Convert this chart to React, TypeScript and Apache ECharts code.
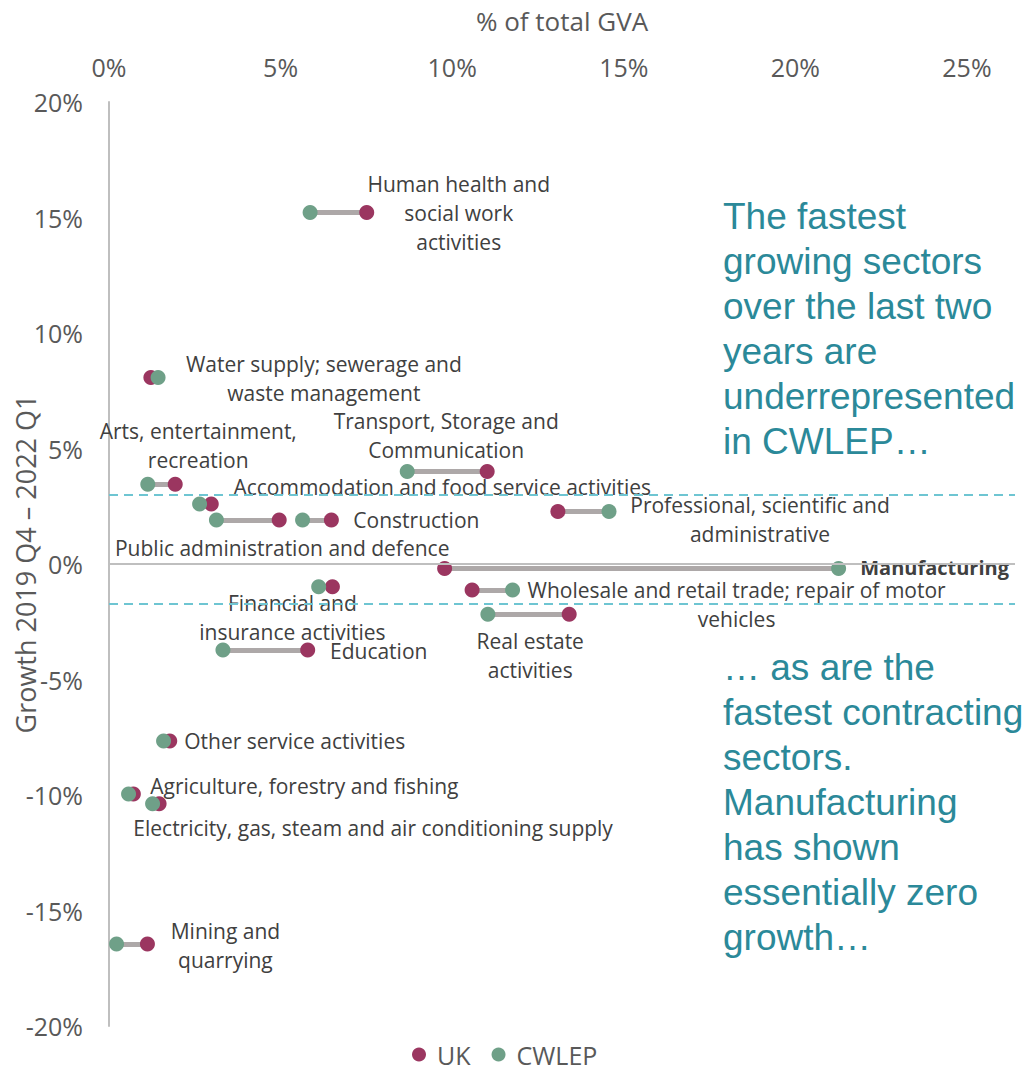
import React, { useEffect, useRef } from "react";
import * as echarts from "echarts";

// ---- Data ----
const sectorLabels = [
  "Human health and\nsocial work\nactivities",
  "Water supply; sewerage and\nwaste management",
  "Arts, entertainment,\nrecreation",
  "Transport, Storage and\nCommunication",
  "Accommodation and food service activities",
  "Public administration and defence",
  "Construction",
  "Professional, scientific and\nadministrative",
  "Manufacturing",
  "Wholesale and retail trade; repair of motor\nvehicles",
  "Real estate\nactivities",
  "Financial and\ninsurance activities",
  "Education",
  "Other service activities",
  "Agriculture, forestry and fishing",
  "Electricity, gas, steam and air conditioning supply",
  "Mining and\nquarrying",
];
// % of total GVA
const ukShare = [7.51, 1.22, 1.93, 11.02, 2.98, 4.96, 6.48, 13.08, 9.78, 10.58, 13.41, 6.51, 5.79, 1.77, 0.71, 1.46, 1.12];
const cwlepShare = [5.86, 1.43, 1.13, 8.69, 2.64, 3.13, 5.64, 14.57, 21.26, 11.76, 11.04, 6.11, 3.32, 1.59, 0.57, 1.27, 0.22];
// Growth 2019 Q4 – 2022 Q1 (%)
const growth = [15.22, 8.07, 3.45, 4.0, 2.6, 1.9, 1.9, 2.27, -0.19, -1.13, -2.18, -0.98, -3.72, -7.66, -9.96, -10.38, -16.45];
// reference thresholds (%)
const upperThreshold = 3.0;
const lowerThreshold = -1.7;

const seriesNames = ["UK", "CWLEP"];
const topNote = "The fastest\ngrowing sectors\nover the last two\nyears are\nunderrepresented\nin CWLEP…";
const bottomNote = "… as are the\nfastest contracting\nsectors.\nManufacturing\nhas shown\nessentially zero\ngrowth…";

// ---- Label placement (which dot a label hangs from, pixel offset) ----
const labelLayout: { on: "UK" | "CWLEP"; offset: [number, number]; bold?: boolean }[] = [
  { on: "UK", offset: [92, 1] },
  { on: "UK", offset: [173, 1] },
  { on: "UK", offset: [23, -39] },
  { on: "UK", offset: [-41, -36] },
  { on: "UK", offset: [231, -17] },
  { on: "UK", offset: [3, 28] },
  { on: "UK", offset: [85, 0] },
  { on: "CWLEP", offset: [151, 8] },
  { on: "CWLEP", offset: [96, -1], bold: true },
  { on: "CWLEP", offset: [224, 14] },
  { on: "UK", offset: [-39, 41] },
  { on: "UK", offset: [-40, 31] },
  { on: "UK", offset: [71, 1] },
  { on: "UK", offset: [125, 0] },
  { on: "UK", offset: [171, -8] },
  { on: "UK", offset: [214, 24] },
  { on: "UK", offset: [78, 2] },
];

const UK_COLOR = "#9B3660";
const CW_COLOR = "#6FA088";
const LABEL_FONT = "'Open Sans', sans-serif";

function pointData(shares: number[], who: "UK" | "CWLEP") {
  return shares.map((x, i) => {
    const lay = labelLayout[i];
    const item: any = { value: [x, growth[i]] };
    if (lay.on === who) {
      item.label = {
        show: true,
        formatter: sectorLabels[i],
        position: "inside",
        align: "center",
        verticalAlign: "middle",
        offset: lay.offset,
        color: "#404040",
        fontFamily: LABEL_FONT,
        fontSize: lay.bold ? 20 : 21,
        lineHeight: 29,
        fontWeight: lay.bold ? "bold" : "normal",
        backgroundColor: lay.bold ? "#ffffff" : "transparent",
        padding: lay.bold ? [0, 2] : 0,
      };
    }
    return item;
  });
}

export default function App() {
  const ref = useRef<HTMLDivElement>(null);
  useEffect(() => {
    if (!ref.current) return;
    const chart = echarts.init(ref.current, null, { renderer: "svg" });
    const pctFmt = (v: number) => (Math.abs(v % 5) < 1e-9 ? `${v}%` : "");
    chart.setOption({
      animation: false,
      backgroundColor: "#ffffff",
      grid: { left: 109, right: 15, top: 102, bottom: 45, containLabel: false, outerBoundsMode: "none" },
      xAxis: {
        type: "value",
        position: "top",
        min: 0,
        max: 26.4,
        interval: 5,
        name: "% of total GVA",
        nameLocation: "middle",
        nameGap: 68,
        nameMoveOverlap: false,
        nameTextStyle: { color: "#595959", fontFamily: LABEL_FONT, fontSize: 26 },
        axisLine: { show: false },
        axisTick: { show: false },
        splitLine: { show: false },
        axisLabel: { formatter: pctFmt, color: "#595959", fontFamily: LABEL_FONT, fontSize: 25, margin: 23 },
      },
      yAxis: {
        type: "value",
        min: -20,
        max: 20,
        interval: 5,
        name: "Growth 2019 Q4 – 2022 Q1",
        nameLocation: "middle",
        nameGap: 70,
        nameMoveOverlap: false,
        nameTextStyle: { color: "#595959", fontFamily: LABEL_FONT, fontSize: 27 },
        axisLine: { show: true, onZero: false, lineStyle: { color: "#BFBFBF", width: 2 } },
        axisTick: { show: false },
        splitLine: { show: false },
        axisLabel: { formatter: pctFmt, color: "#595959", fontFamily: LABEL_FONT, fontSize: 25, margin: 26 },
      },
      legend: {
        data: seriesNames,
        left: 412,
        top: 1042,
        padding: 0,
        icon: "circle",
        itemWidth: 26,
        itemHeight: 14,
        itemGap: 21,
        textStyle: { color: "#595959", fontFamily: LABEL_FONT, fontSize: 25, lineHeight: 24 },
      },
      series: [
        {
          type: "lines",
          coordinateSystem: "cartesian2d",
          silent: true,
          z: 1,
          lineStyle: { color: "#ADA8A8", width: 5, opacity: 1 },
          data: growth.map((g, i) => ({ coords: [[ukShare[i], g], [cwlepShare[i], g]] })),
          markLine: {
            silent: true,
            symbol: "none",
            label: { show: false },
            data: [
              { yAxis: 0, lineStyle: { color: "#BFBFBF", width: 2, type: "solid" } },
              { yAxis: upperThreshold, lineStyle: { color: "#6EC5D2", width: 2, type: [9, 6] } },
              { yAxis: lowerThreshold, lineStyle: { color: "#6EC5D2", width: 2, type: [9, 6] } },
            ],
          },
        },
        {
          name: "UK",
          type: "scatter",
          symbol: "circle",
          symbolSize: 15,
          z: 3,
          itemStyle: { color: UK_COLOR, opacity: 1 },
          data: pointData(ukShare, "UK"),
        },
        {
          name: "CWLEP",
          type: "scatter",
          symbol: "circle",
          symbolSize: 15,
          z: 4,
          itemStyle: { color: CW_COLOR, opacity: 1 },
          data: pointData(cwlepShare, "CWLEP"),
        },
      ],
      graphic: [
        {
          type: "text",
          left: 723,
          top: 194,
          style: {
            text: topNote,
            fill: "#2B8999",
            font: "37px 'Liberation Sans', Arial, sans-serif",
            lineHeight: 45,
          },
        },
        {
          type: "text",
          left: 723,
          top: 645,
          style: {
            text: bottomNote,
            fill: "#2B8999",
            font: "37px 'Liberation Sans', Arial, sans-serif",
            lineHeight: 45,
          },
        },
      ],
    });
    return () => chart.dispose();
  }, []);
  return (
    <div
      ref={ref}
      style={{ position: "absolute", left: 0, top: 0, width: 1030, height: 1071, background: "#fff" }}
    />
  );
}
